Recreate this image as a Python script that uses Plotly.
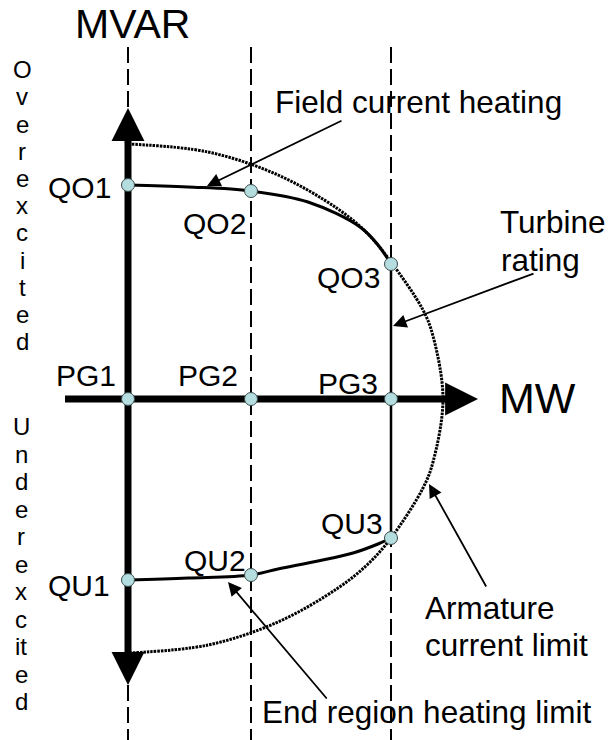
import plotly.graph_objects as go

# ---------------- data (diagram units: P = MW, Q = MVAR) ----------------
pg_labels = ["PG1", "PG2", "PG3"]
pg_values = [0, 123, 263]

qo_labels = ["QO1", "QO2", "QO3"]
qo_values = [214, 208, 135]

qu_labels = ["QU1", "QU2", "QU3"]
qu_values = [-181, -176, -139]

# field current heating limit (over-excited)
field_p = [0, 60, 123, 180, 232, 250, 263]
field_q = [214, 212, 208, 197, 172, 154, 135]

# end region heating limit (under-excited)
end_p = [0, 60, 123, 150, 190, 225, 250, 263]
end_q = [-181, -179, -176, -170, -162, -154, -145, -139]

# armature current limit
arm_p = [0, 80, 150, 210, 240, 263, 295, 305, 315, 305, 295, 263, 240, 210, 150, 80, 0]
arm_q = [255, 247, 224, 190, 165, 137, 89, 63, 0, -63, -89, -139, -165, -189, -223, -246, -254]

over_letters = ["O", "v", "e", "r", "e", "x", "c", "i", "t", "e", "d"]
under_letters = ["U", "n", "d", "e", "r", "e", "x", "c", "it", "e", "d"]

callouts = ["Field current heating", "Turbine", "rating", "Armature", "current limit",
            "End region heating limit"]

# ---------------- layout constants ----------------
X_MIN, X_MAX = -128, 480
Y_MIN, Y_MAX = -341, 399
FONT = "Arial, Liberation Sans, sans-serif"
MARKER_FILL = "#B4DDE0"

fig = go.Figure()

# vertical dashed guide lines
for p in pg_values:
    fig.add_shape(type="line", x0=p, x1=p, y0=352, y1=Y_MIN - 5, layer="below",
                  line=dict(color="black", width=2, dash="16px,6px"))

# thick axes
fig.add_shape(type="line", x0=0, x1=0, y0=-257, y1=257, layer="below",
              line=dict(color="black", width=7))
fig.add_shape(type="line", x0=-63, x1=318, y0=0, y1=0, layer="below",
              line=dict(color="black", width=7))

# turbine rating line
fig.add_shape(type="line", x0=pg_values[2], x1=pg_values[2], y0=qo_values[2], y1=qu_values[2],
              layer="below", line=dict(color="black", width=2.5))

# armature current limit (dotted)
fig.add_trace(go.Scatter(x=arm_p, y=arm_q, mode="lines",
                         line=dict(color="black", width=3, dash="2.5px,1px", shape="spline"),
                         hoverinfo="skip"))
# field current heating curve
fig.add_trace(go.Scatter(x=field_p, y=field_q, mode="lines",
                         line=dict(color="black", width=3, shape="spline"), hoverinfo="skip"))
# end region heating curve
fig.add_trace(go.Scatter(x=end_p, y=end_q, mode="lines",
                         line=dict(color="black", width=3, shape="spline"), hoverinfo="skip"))

# operating point markers
mx = pg_values + pg_values + pg_values
my = [0, 0, 0] + qo_values + qu_values
fig.add_trace(go.Scatter(x=mx, y=my, mode="markers",
                         marker=dict(size=13, color=MARKER_FILL,
                                     line=dict(color="#3a4a4a", width=1)),
                         hoverinfo="skip"))

ann = []

# axis arrowheads
def head(x, y, ax, ay, width, size):
    ann.append(dict(x=x, y=y, ax=ax, ay=ay, xref="x", yref="y", axref="x", ayref="y",
                    text="", showarrow=True, arrowhead=2, arrowwidth=width,
                    arrowsize=size, arrowcolor="black"))

head(0, 291, 0, 255, 7, 0.94)
head(0, -286, 0, -255, 7, 0.94)
head(350, 0, 316, 0, 7, 0.94)

# callout arrows
head(79, 213, 215, 279, 1.8, 1.5)
head(265, 73, 407, 126, 1.8, 1.5)
head(301, -85, 359, -189, 1.8, 1.5)
head(100, -183, 200, -301, 1.8, 1.5)

def txt(t, x, y, size, xa="center", ya="middle"):
    ann.append(dict(x=x, y=y, xref="x", yref="y", text=t, showarrow=False,
                    xanchor=xa, yanchor=ya, font=dict(family=FONT, size=size, color="black")))

# axis titles
txt("MVAR", 4, 375.5, 41)
txt("MW", 409, 1, 43)

# point labels
LBL = 30
txt(qo_labels[0], -15, 212, LBL, "right")
txt(qo_labels[1], 120, 176, LBL, "right")
txt(qo_labels[2], 254, 122, LBL, "right")
txt(pg_labels[0], -10, 24, LBL, "right")
txt(pg_labels[1], 112, 24, LBL, "right")
txt(pg_labels[2], 252, 16, LBL, "right")
txt(qu_labels[0], -16, -186, LBL, "right")
txt(qu_labels[1], 120, -161, LBL, "right")
txt(qu_labels[2], 257, -124, LBL, "right")

# callout texts
CT = 31.5
txt(callouts[0], 145, 297, CT, "left")
txt(callouts[1], 370, 177, CT, "left")
txt(callouts[2], 371, 139, CT, "left")
txt(callouts[3], 295, -209, CT, "left")
txt(callouts[4], 295, -246, CT, "left")
txt(callouts[5], 132, -313, CT, "left")

# vertical side texts
for i, ch in enumerate(over_letters):
    txt(ch, -106, 329.3 - 27.2 * i, 24)
for i, ch in enumerate(under_letters):
    txt(ch, -107, -27.7 - 27.5 * i, 24)

fig.update_layout(
    width=608, height=740, autosize=False,
    margin=dict(l=0, r=0, t=0, b=0),
    paper_bgcolor="white", plot_bgcolor="white",
    showlegend=False,
    xaxis=dict(range=[X_MIN, X_MAX], visible=False, fixedrange=True),
    yaxis=dict(range=[Y_MIN, Y_MAX], visible=False, fixedrange=True),
    annotations=ann,
)

# remove the browser's default 8px body margin so the figure fills the window exactly
fig.write_html("out.html", config={"displayModeBar": False},
               post_script="document.body.style.margin='0';")
